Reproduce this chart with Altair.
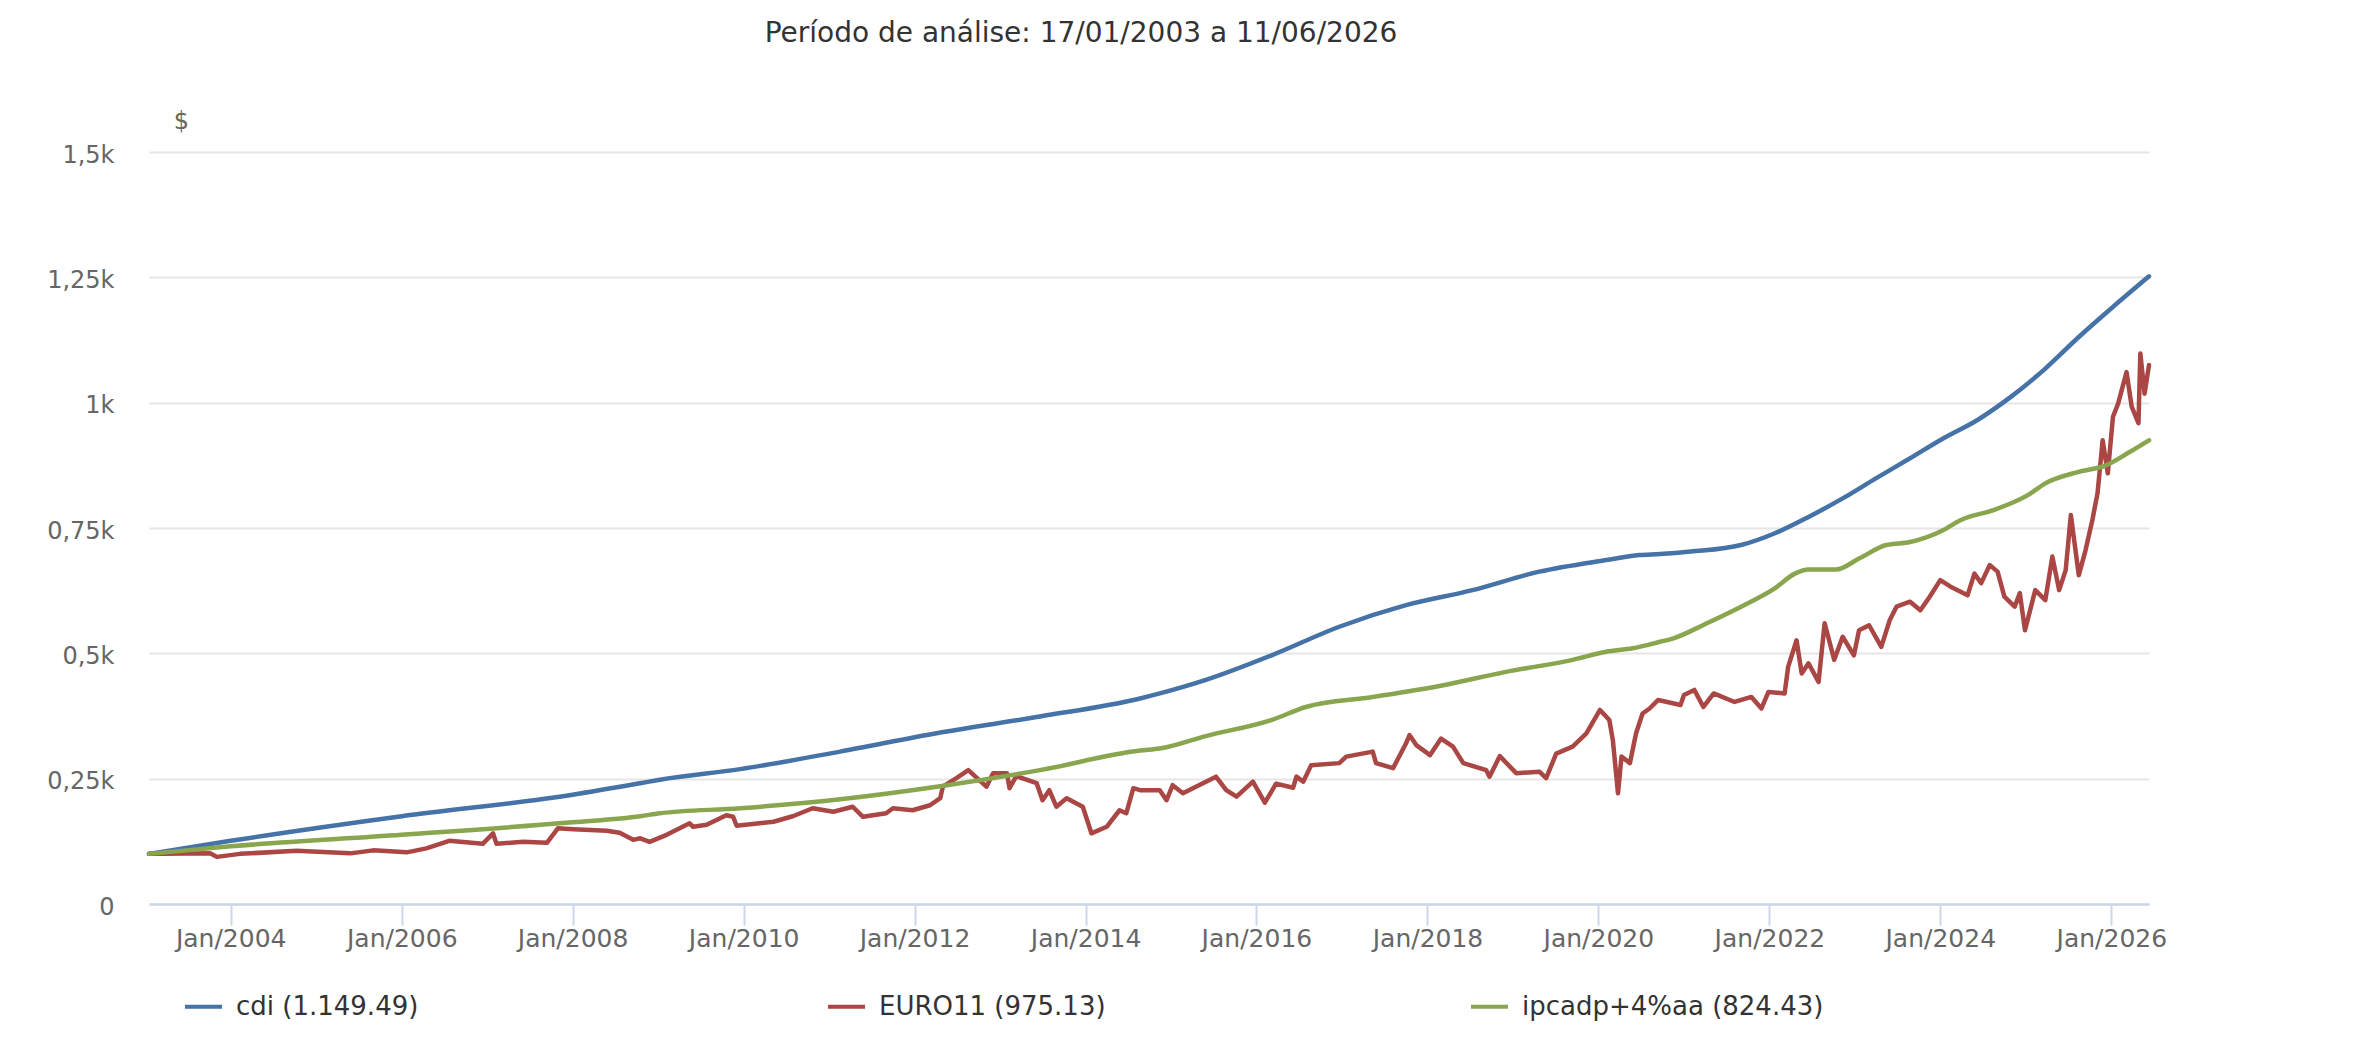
import altair as alt
import pandas as pd

TITLE = "Período de análise: 17/01/2003 a 11/06/2026"
SERIES = ["cdi (1.149.49)", "EURO11 (975.13)", "ipcadp+4%aa (824.43)"]
COLORS = ["#4572A7", "#AA4643", "#89A54E"]
X_TICK_YEARS = [2004, 2006, 2008, 2010, 2012, 2014, 2016, 2018, 2020, 2022, 2024, 2026]
Y_TICKS = [0, 250, 500, 750, 1000, 1250, 1500]

cdi_dates = [
    "2003-01-17", "2004-01-01", "2006-01-01", "2008-01-01", "2008-10-16",
    "2009-01-08", "2009-12-17", "2011-02-17", "2012-04-20", "2013-06-20",
    "2014-08-22", "2014-11-14", "2015-05-30", "2016-03-11", "2016-12-20",
    "2017-10-01", "2018-07-12", "2019-04-24", "2020-02-03", "2020-06-24",
    "2020-09-20", "2021-01-30", "2021-09-02", "2022-01-22", "2022-06-17",
    "2022-11-10", "2023-04-01", "2023-08-25", "2024-01-15", "2024-06-10",
    "2024-10-30", "2025-03-25", "2025-08-15", "2026-01-08", "2026-06-11",
]
cdi_values = [
    100, 126, 175, 218, 241, 248, 269, 304, 342, 374,
    410, 420, 447, 497, 553, 596, 626, 663, 686, 696,
    698, 703, 716, 739, 772, 809, 849, 889, 929, 966,
    1012, 1068, 1131, 1191, 1252,
]

ipca_dates = [
    "2003-01-17", "2004-01-01", "2006-01-01", "2008-01-01", "2008-10-16",
    "2009-01-08", "2009-12-17", "2011-02-17", "2012-04-20", "2013-06-20",
    "2014-08-22", "2014-11-14", "2015-05-30", "2016-03-11", "2016-07-30",
    "2017-05-12", "2018-02-21", "2018-12-02", "2019-09-13", "2020-02-03",
    "2020-05-26", "2020-09-20", "2020-11-17", "2021-04-09", "2021-09-02",
    "2022-01-22", "2022-04-20", "2022-06-17", "2022-10-12", "2023-01-19",
    "2023-05-15", "2023-08-25", "2024-01-15", "2024-03-29", "2024-08-18",
    "2025-01-11", "2025-03-25", "2025-08-15", "2025-12-09", "2026-03-22",
    "2026-06-11",
]
ipca_values = [
    100, 115, 138, 163, 175, 181, 191, 209, 235, 267,
    306, 310, 335, 368, 393, 413, 435, 463, 487, 503,
    510, 523, 530, 560, 593, 629, 659, 667, 667, 689,
    716, 722, 746, 766, 786, 816, 839, 862, 875, 902,
    925,
]

euro_dates = [
    "2003-01-17", "2003-03-18", "2003-10-05", "2003-11-03", "2004-02-10",
    "2004-10-08", "2005-05-26", "2005-09-01", "2006-01-22", "2006-04-16",
    "2006-07-23", "2006-12-13", "2007-01-26", "2007-02-10", "2007-06-03",
    "2007-09-13", "2007-10-30", "2008-01-05", "2008-05-26", "2008-07-20",
    "2008-09-16", "2008-10-16", "2008-11-25", "2009-02-06", "2009-05-15",
    "2009-05-30", "2009-07-27", "2009-10-19", "2009-11-17", "2009-12-02",
    "2010-05-08", "2010-07-30", "2010-10-23", "2011-01-19", "2011-04-12",
    "2011-05-26", "2011-09-02", "2011-10-01", "2011-12-24", "2012-03-07",
    "2012-04-20", "2012-05-01", "2012-06-28", "2012-08-18", "2012-11-03",
    "2012-12-02", "2013-01-30", "2013-02-10", "2013-03-11", "2013-06-06",
    "2013-07-01", "2013-07-30", "2013-08-29", "2013-10-12", "2013-12-20",
    "2014-01-26", "2014-04-01", "2014-05-26", "2014-06-24", "2014-07-24",
    "2014-08-22", "2014-11-14", "2014-12-13", "2015-01-08", "2015-02-21",
    "2015-07-12", "2015-08-25", "2015-10-08", "2015-12-17", "2016-02-06",
    "2016-03-25", "2016-06-06", "2016-06-20", "2016-07-19", "2016-08-22",
    "2016-12-20", "2017-01-19", "2017-05-12", "2017-05-26", "2017-08-07",
    "2017-10-01", "2017-10-16", "2017-11-14", "2018-01-12", "2018-02-28",
    "2018-04-20", "2018-06-03", "2018-09-09", "2018-09-23", "2018-11-06",
    "2019-01-15", "2019-04-24", "2019-05-23", "2019-07-05", "2019-09-13",
    "2019-11-10", "2020-01-08", "2020-02-17", "2020-03-03", "2020-03-25",
    "2020-04-09", "2020-05-15", "2020-06-10", "2020-07-08", "2020-08-07",
    "2020-09-13", "2020-12-17", "2021-01-01", "2021-02-14", "2021-03-25",
    "2021-05-08", "2021-08-05", "2021-10-16", "2021-11-28", "2021-12-28",
    "2022-03-07", "2022-03-22", "2022-04-27", "2022-05-19", "2022-06-17",
    "2022-07-30", "2022-08-25", "2022-10-05", "2022-11-10", "2022-12-28",
    "2023-01-19", "2023-03-03", "2023-04-24", "2023-05-30", "2023-06-28",
    "2023-08-25", "2023-10-08", "2023-11-17", "2024-01-01", "2024-02-14",
    "2024-04-27", "2024-05-26", "2024-06-24", "2024-07-30", "2024-09-02",
    "2024-10-01", "2024-11-14", "2024-12-06", "2024-12-28", "2025-02-10",
    "2025-03-25", "2025-04-24", "2025-05-23", "2025-06-20", "2025-07-12",
    "2025-08-15", "2025-09-13", "2025-10-12", "2025-11-03", "2025-11-25",
    "2025-12-17", "2026-01-08", "2026-01-30", "2026-03-07", "2026-03-29",
    "2026-04-27", "2026-05-05", "2026-05-23", "2026-06-11",
]
euro_values = [
    100, 100, 101, 94, 100, 106, 101, 107, 103, 111,
    126, 120, 141, 120, 124, 122, 151, 149, 146, 142,
    128, 131, 124, 138, 161, 154, 158, 177, 174, 156,
    164, 175, 191, 184, 194, 174, 181, 191, 187, 197,
    211, 234, 251, 267, 234, 261, 261, 231, 255, 241,
    207, 227, 194, 211, 194, 141, 154, 187, 181, 231,
    227, 227, 207, 237, 221, 254, 227, 214, 244, 202,
    240, 232, 254, 244, 277, 281, 294, 304, 281, 271,
    320, 337, 317, 297, 330, 314, 281, 267, 254, 295,
    261, 264, 251, 300, 314, 340, 387, 367, 327, 221,
    294, 281, 340, 380, 390, 407, 397, 417, 427, 393,
    420, 403, 413, 390, 423, 420, 473, 526, 460, 480,
    443, 560, 487, 533, 496, 546, 556, 513, 566, 593,
    603, 586, 613, 646, 633, 616, 659, 640, 676, 663,
    613, 593, 620, 546, 626, 606, 693, 626, 666, 776,
    656, 706, 766, 819, 925, 859, 972, 998, 1061, 992,
    959, 1098, 1018, 1075,
]

frames = []
for name, d, v in [
    (SERIES[0], cdi_dates, cdi_values),
    (SERIES[1], euro_dates, euro_values),
    (SERIES[2], ipca_dates, ipca_values),
]:
    assert len(d) == len(v), name
    frames.append(pd.DataFrame({"date": d, "value": v, "series": name}))
df = pd.concat(frames, ignore_index=True)

FONT = "DejaVu Sans"

x_enc = alt.X(
    "date:T",
    scale=alt.Scale(
        type="utc",
        domain=[
            alt.DateTime(year=2003, month=1, date=17, utc=True),
            alt.DateTime(year=2026, month=6, date=11, utc=True),
        ],
    ),
    axis=alt.Axis(
        values=[alt.DateTime(year=y, month=1, date=1, utc=True) for y in X_TICK_YEARS],
        labelExpr="'Jan/' + utcFormat(datum.value, '%Y')",
        grid=False,
        domainColor="#ccd6eb",
        domainWidth=2.5,
        tickColor="#ccd6eb",
        tickSize=21,
        tickWidth=2,
        labelColor="#666666",
        labelFontSize=25,
        labelFont=FONT,
        labelPadding=1,
        labelFlush=False,
        labelOverlap=False,
        title=None,
    ),
)

y_enc = alt.Y(
    "value:Q",
    scale=alt.Scale(domain=[0, 1500], nice=False, zero=True),
    axis=alt.Axis(
        values=Y_TICKS,
        labelExpr="datum.value == 0 ? '0' : replace(format(datum.value / 1000, '~g'), '.', ',') + 'k'",
        domain=False,
        ticks=False,
        gridColor="#e6e6e6",
        gridWidth=2,
        labelColor="#666666",
        labelFontSize=24,
        labelFont=FONT,
        labelPadding=35,
        labelOffset=3,
        title="$",
        titleAngle=0,
        titleX=32,
        titleY=-31,
        titleAlign="center",
        titleBaseline="middle",
        titleFontSize=24,
        titleFontWeight="normal",
        titleColor="#666666",
        titleFont=FONT,
    ),
)

color_enc = alt.Color(
    "series:N",
    scale=alt.Scale(domain=SERIES, range=COLORS),
    legend=alt.Legend(
        title=None,
        orient="none",
        legendX=34,
        legendY=834,
        direction="horizontal",
        columns=3,
        gridAlign="all",
        columnPadding=282,
        symbolType="stroke",
        symbolSize=1369,
        symbolStrokeWidth=4,
        labelFontSize=26,
        labelColor="#333333",
        labelFont=FONT,
        labelOffset=12,
        labelLimit=0,
    ),
)

base = alt.Chart(df).encode(x=x_enc, y=y_enc, color=color_enc)

layers = []
for name in SERIES:
    interp = "linear" if name.startswith("EURO11") else "monotone"
    layers.append(
        base.transform_filter(alt.datum.series == name).mark_line(
            strokeWidth=4.5, interpolate=interp, strokeJoin="round", strokeCap="round"
        )
    )

chart = (
    alt.layer(*layers)
    .properties(
        width=2000,
        height=752,
        autosize=alt.AutoSizeParams(type="none"),
        padding={"left": 141, "top": 144, "right": 100, "bottom": 130},
        title=alt.TitleParams(
            TITLE,
            anchor="middle",
            fontSize=28,
            font=FONT,
            fontWeight="normal",
            color="#333333",
            dx=-68,
            offset=61,
        ),
        background="white",
    )
    .configure_view(stroke=None)
)

chart.save("out.html", embed_options={"renderer": "svg", "actions": False})
